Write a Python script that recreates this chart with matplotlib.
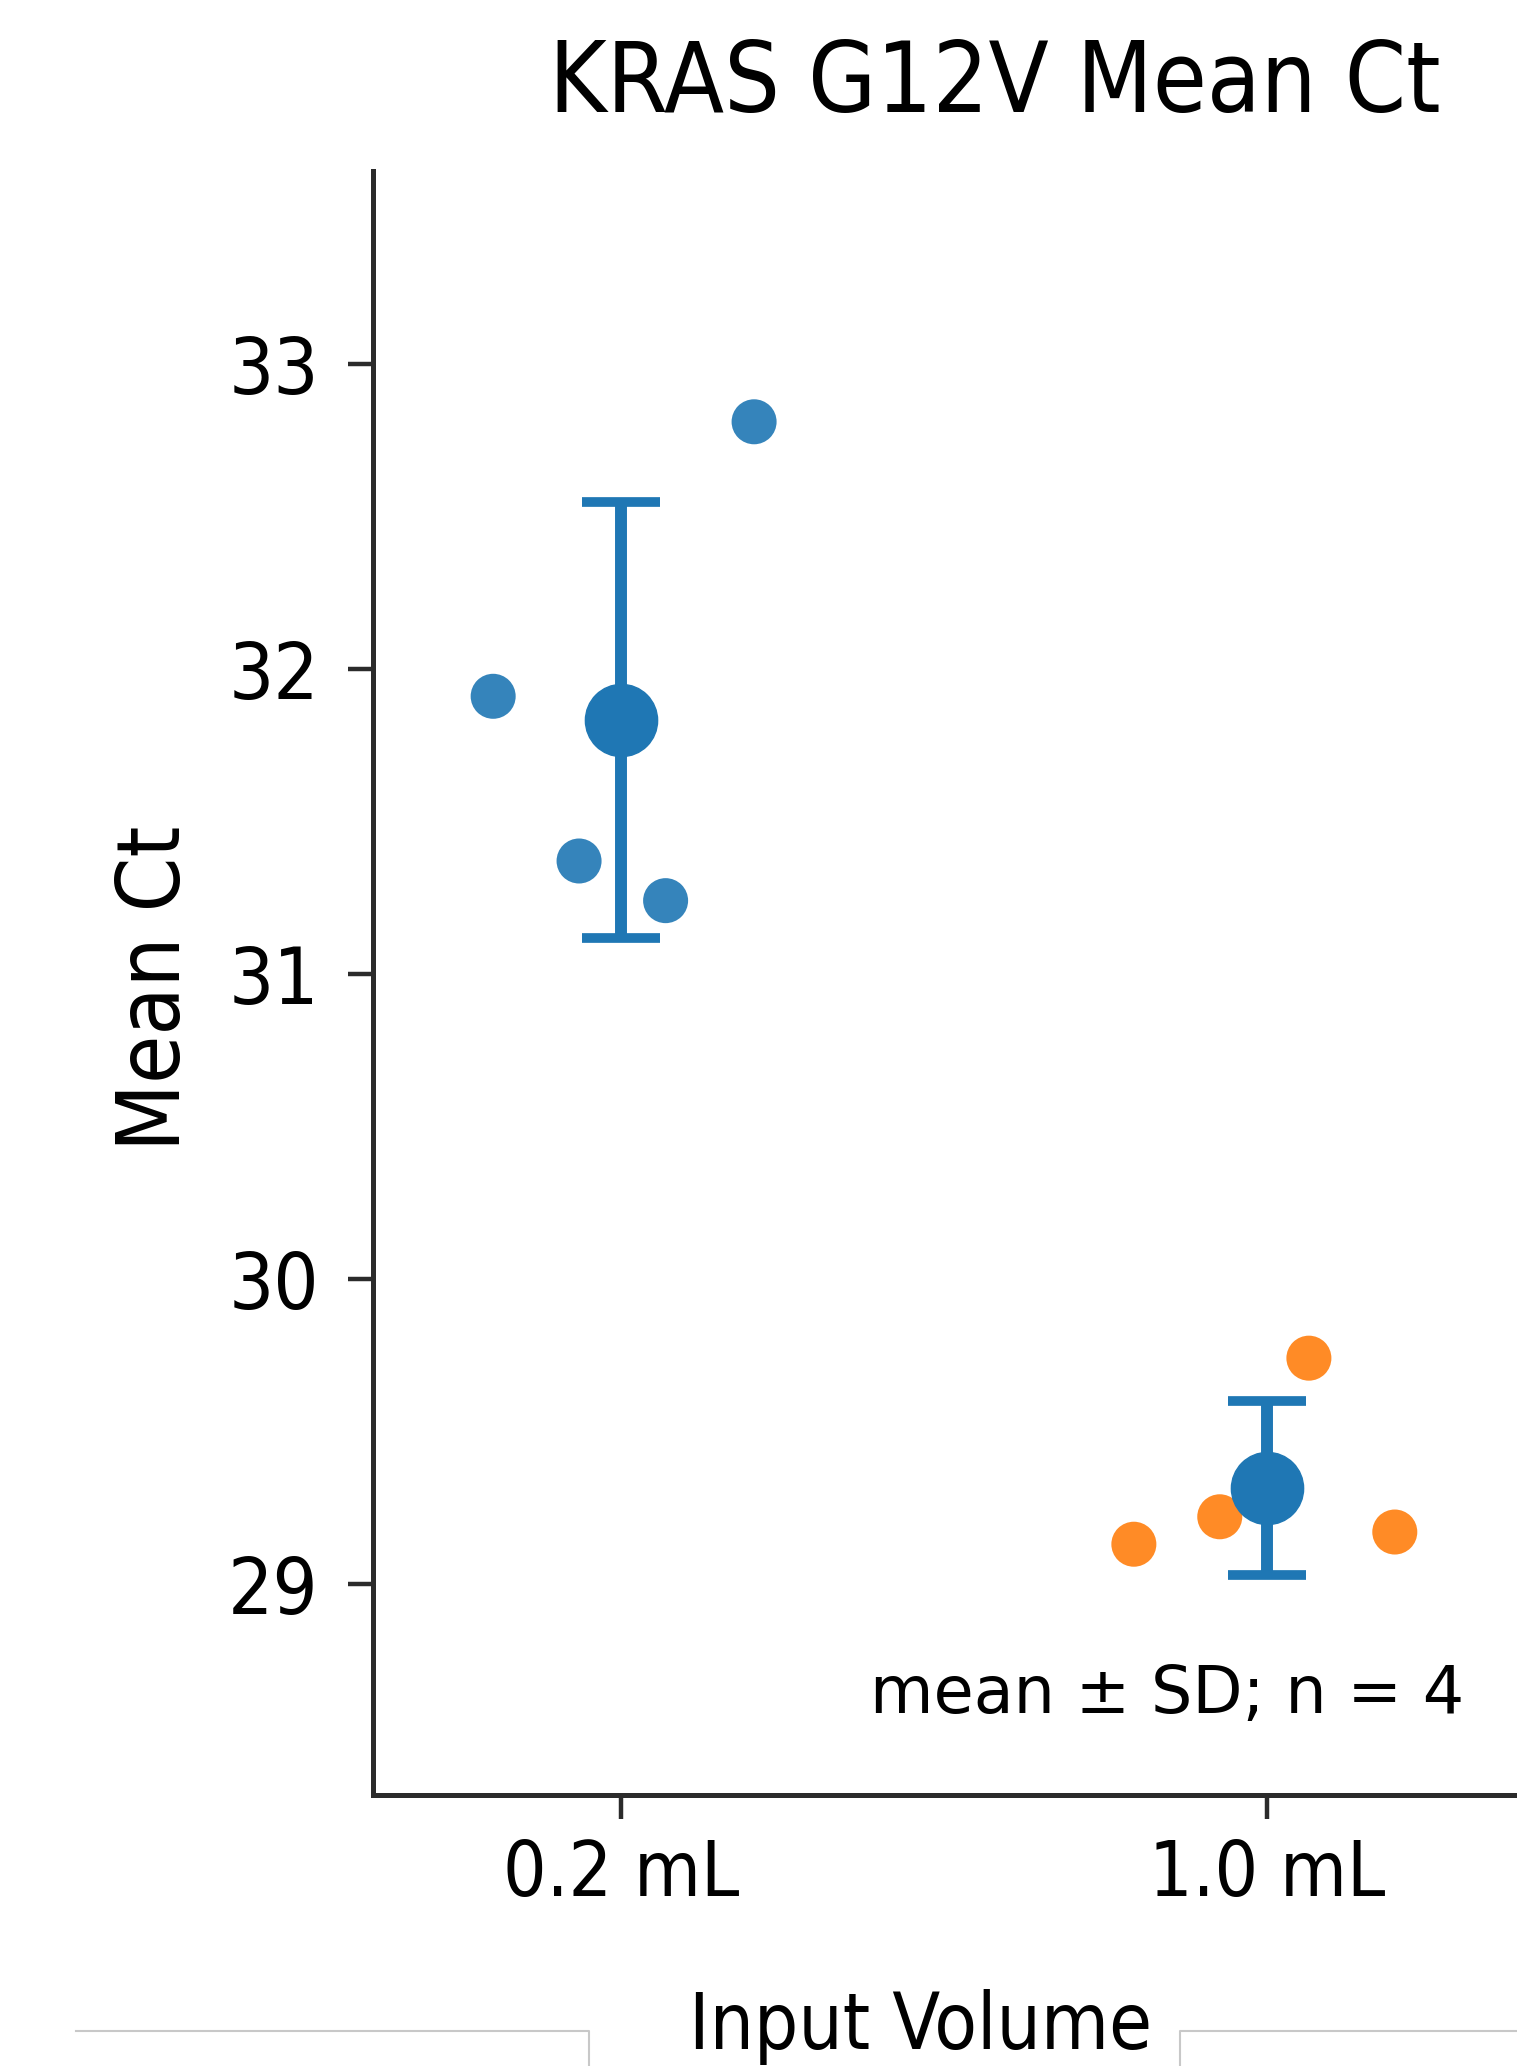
import matplotlib
matplotlib.use("Agg")
import matplotlib.pyplot as plt
from matplotlib.lines import Line2D
import numpy as np

# ---- data ----
groups = ["0.2 mL", "1.0 mL"]
ct_02ml = [31.91, 32.81, 31.37, 31.24]
ct_10ml = [29.13, 29.22, 29.74, 29.17]
jitter_02ml = [-0.198, 0.206, -0.065, 0.069]
jitter_10ml = [-0.206, -0.073, 0.065, 0.198]
yticks = [29, 30, 31, 32, 33]

title = "KRAS G12V Mean Ct"
xlabel = "Input Volume"
ylabel = "Mean Ct"
note = "mean \u00b1 SD; n = 4"

blue = "#1f77b4"
orange = "#ff7f0e"
spine_col = "#2b2b2b"

plt.rcParams["font.family"] = ["DejaVu Sans"]
cond = dict(family="DejaVu Sans", stretch="condensed")

fig = plt.figure(figsize=(15.17, 20.66), dpi=100)
ax = fig.add_axes([0.2459, 0.1312, 0.820, 0.786])

series = [ct_02ml, ct_10ml]
jitters = [jitter_02ml, jitter_10ml]
colors = [blue, orange]
xpos = np.arange(len(groups))
for i, (vals, jit, col) in enumerate(zip(series, jitters, colors)):
    ax.scatter(xpos[i] + np.array(jit), vals, s=1050, color=col, alpha=0.9,
               edgecolors="none", zorder=2)

means = [np.mean(v) for v in series]
sds = [np.std(v, ddof=1) for v in series]
ax.errorbar(xpos, means, yerr=sds, fmt="o", color=blue, markersize=52,
            elinewidth=8.6, capsize=28, capthick=7, zorder=3)

ax.set_xlim(-0.384, 1.542)
ax.set_ylim(28.308, 33.632)
ax.set_xticks(xpos)
ax.set_xticklabels(groups, fontsize=55, **cond)
ax.set_yticks(yticks)
ax.set_yticklabels([str(t) for t in yticks], fontsize=57, **cond)

for side in ("top", "right"):
    ax.spines[side].set_visible(False)
for side in ("left", "bottom"):
    ax.spines[side].set_linewidth(3.6)
    ax.spines[side].set_color(spine_col)
ax.tick_params(axis="y", length=18, width=3.2, color=spine_col, pad=21)
ax.tick_params(axis="x", length=17, width=3.2, color=spine_col, pad=14)

ax.set_xlabel(xlabel, fontsize=56, **cond)
ax.xaxis.label.set_va("baseline")
ax.xaxis.set_label_coords(0.4405, -0.1565)
ax.set_ylabel(ylabel, fontsize=63, **cond)
ax.yaxis.label.set_va("baseline")
ax.yaxis.set_label_coords(-0.1551, 0.497)

ax.set_title(title, fontsize=70.5, x=0.5, y=1.031, va="baseline", **cond)

ax.text(0.877, 0.0505, note, transform=ax.transAxes, ha="right", va="baseline",
        fontsize=47, family="DejaVu Sans")

# light frame fragments along the bottom edge of the reference image
frag = "#c8c8c8"
W, H = 1517.0, 2066.0
y0 = 1 - 2031 / H
fig.add_artist(Line2D([76 / W, 589 / W, 589 / W], [y0, y0, 0], transform=fig.transFigure,
                      color=frag, linewidth=1.5))
fig.add_artist(Line2D([1180 / W, 1180 / W, 1.0], [0, y0, y0], transform=fig.transFigure,
                      color=frag, linewidth=1.5))

fig.savefig("out.png", dpi=100)
